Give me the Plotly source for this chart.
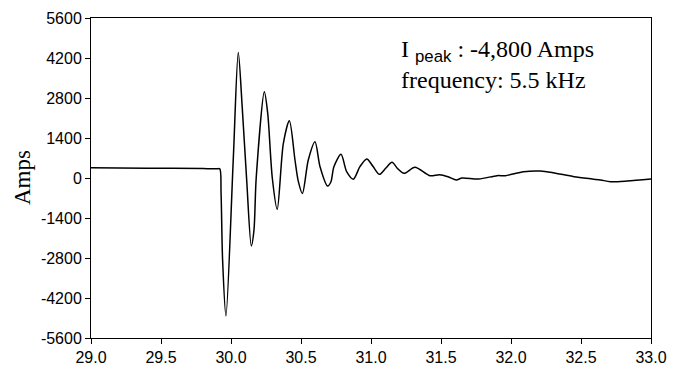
import plotly.graph_objects as go

time_ms = [29.00, 29.40, 29.80, 29.90, 29.92, 29.929, 29.94, 29.964, 30.016, 30.052, 30.08, 30.112,
           30.145, 30.164, 30.18, 30.238, 30.262, 30.295, 30.33, 30.374, 30.417, 30.457,
           30.48, 30.51, 30.552, 30.60, 30.636, 30.69, 30.714, 30.735, 30.786, 30.826, 30.874,
           30.921, 30.97, 31.015, 31.06, 31.105, 31.15, 31.19, 31.236, 31.314, 31.42, 31.49,
           31.55, 31.61, 31.65, 31.77, 31.90, 31.96, 32.09, 32.21, 32.30, 32.45,
           32.58, 32.64, 32.71, 32.83, 33.00]
current_amps = [360, 345, 330, 322, 320, -525, -2870, -4830, 630, 4390, 2490, -70,
                -2380, -1830, 0, 3020, 2275, 0, -1097, 1213, 2005, 630,
                -100, -545, 630, 1270, 396, -280, -130, 396, 830, 222, -40,
                396, 665, 400, 128, 340, 548, 330, 163, 373, 82, 117,
                47, -70, 0, -35, 82, 82, 222, 245, 187, 47,
                -35, -70, -128, -105, -35]

x_ticks = [29.0, 29.5, 30.0, 30.5, 31.0, 31.5, 32.0, 32.5, 33.0]
y_ticks = [-5600, -4200, -2800, -1400, 0, 1400, 2800, 4200, 5600]

fig = go.Figure()
fig.add_trace(go.Scatter(x=time_ms, y=current_amps, mode="lines",
                         line=dict(color="black", width=1.5, shape="spline", smoothing=0.8),
                         showlegend=False, hoverinfo="skip"))

axis_common = dict(showgrid=False, zeroline=False, showline=True, linecolor="black",
                   linewidth=1, mirror=True, ticks="outside", ticklen=5, tickcolor="black",
                   tickwidth=1, automargin=False,
                   tickfont=dict(family="Liberation Sans, Arial", size=16, color="black"))
fig.update_xaxes(range=[29.0, 33.0], tickvals=x_ticks,
                 ticktext=[f"{v:.1f}" for v in x_ticks], **axis_common)
fig.update_yaxes(range=[-5600, 5600], tickvals=y_ticks,
                 ticktext=[str(v) for v in y_ticks], **axis_common)

fig.add_annotation(xref="paper", yref="paper", x=-0.123, y=0.5, text="Amps",
                   textangle=-90, showarrow=False, xanchor="center", yanchor="middle",
                   font=dict(family="Liberation Serif, Times New Roman", size=23, color="black"))
fig.add_annotation(xref="paper", yref="paper", x=0.55, y=0.95,
                   text="I <sub><span style='font-family:Liberation Sans, Arial'>peak</span></sub> : -4,800 Amps<br>frequency: 5.5 kHz",
                   showarrow=False, xanchor="left", yanchor="top", align="left",
                   font=dict(family="Liberation Serif, Times New Roman", size=24, color="black"))

fig.update_layout(width=675, height=358, margin=dict(l=83, r=32, t=10, b=28),
                  plot_bgcolor="white", paper_bgcolor="white")
fig.write_html("out.html")
